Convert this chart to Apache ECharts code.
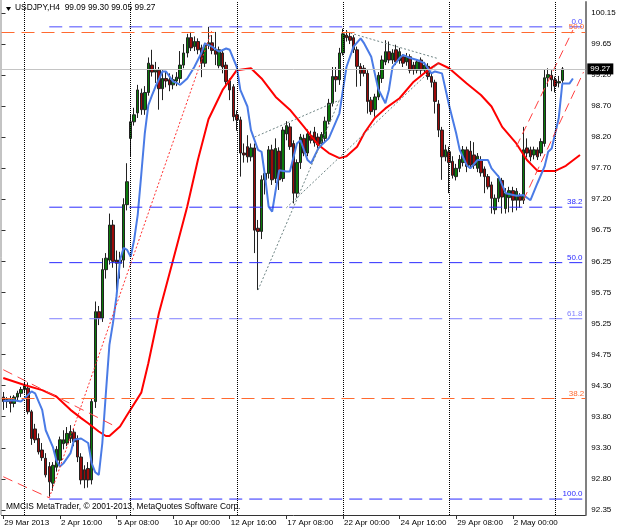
<!DOCTYPE html>
<html><head><meta charset="utf-8">
<script src="https://cdn.jsdelivr.net/npm/echarts@6/dist/echarts.min.js"></script>
<style>html,body{margin:0;padding:0;background:#fff;}#c{width:620px;height:531px;}</style>
</head><body><div id="c"></div>
<script>
// ---- data (USDJPY H4, bar index 0 = 29 Mar 2013 00:00) ----
const opens=[94.12,94.05,94.08,94.02,94.12,94.18,94.24,94.26,93.89,93.62,
93.47,93.29,93.16,93.03,92.77,93.02,93.13,93.39,93.40,93.47,
93.57,93.47,93.18,92.98,93.00,92.82,94.05,95.46,95.36,96.12,
96.27,96.82,96.27,96.22,96.27,97.14,98.18,98.44,98.58,98.89,
98.63,98.90,99.33,99.22,99.25,98.96,99.12,99.10,99.02,99.08,
99.12,99.33,99.52,99.76,99.62,99.70,99.60,99.36,99.64,99.68,
99.56,99.32,99.52,99.33,99.08,98.99,98.55,98.47,97.95,98.05,
97.89,98.03,96.77,96.72,97.53,97.63,98.00,97.55,97.98,97.55,
98.25,98.36,98.10,97.32,97.80,98.18,97.95,98.22,98.28,98.20,
98.10,98.18,98.45,98.73,99.15,99.10,99.52,99.80,99.78,99.76,
99.57,99.31,99.28,99.20,98.78,98.63,98.83,99.12,99.38,99.54,
99.41,99.57,99.40,99.46,99.38,99.46,99.33,99.25,99.41,99.25,
99.31,99.15,99.06,98.72,98.31,97.89,97.97,97.82,97.58,97.71,
97.80,98.00,97.98,97.92,97.71,97.84,97.70,97.58,97.45,97.06,
97.24,97.52,97.08,97.25,97.36,97.21,97.27,97.21,98.03,98.00,
97.92,98.00,97.95,98.10,99.13,99.17,99.10,99.05,99.09];
const highs=[94.20,94.12,94.14,94.15,94.22,94.28,94.36,94.35,93.92,93.70,
93.55,93.40,93.24,93.10,93.10,93.35,93.50,93.60,93.65,93.68,
93.62,93.52,93.24,93.05,93.10,94.10,95.62,95.55,96.30,96.38,
97.00,96.90,96.42,96.40,97.24,97.79,98.55,98.66,99.02,98.96,
99.00,99.45,99.57,99.38,99.30,99.25,99.22,99.20,99.18,99.22,
99.55,99.66,99.82,99.85,99.78,99.75,99.65,99.68,99.93,99.80,
99.85,99.62,99.55,99.38,99.12,99.03,98.62,98.52,98.10,98.23,
98.10,98.10,96.90,97.60,97.70,98.06,98.08,98.18,98.04,98.36,
98.45,98.42,98.15,97.85,98.25,98.24,98.32,98.30,98.36,98.26,
98.28,98.52,98.80,99.30,99.30,99.60,99.90,99.88,99.85,99.80,
99.62,99.36,99.33,99.25,98.83,98.88,99.22,99.48,99.72,99.70,
99.58,99.65,99.60,99.50,99.52,99.50,99.38,99.42,99.45,99.38,
99.36,99.20,99.10,98.78,98.36,98.08,98.05,97.90,97.78,97.92,
98.06,98.05,98.14,98.12,97.95,97.90,97.74,97.62,97.50,97.30,
97.60,97.56,97.40,97.42,97.42,97.40,97.32,98.36,98.18,98.05,
98.05,98.04,98.18,99.26,99.28,99.25,99.15,99.16,99.30];
const lows=[93.92,93.95,93.88,93.96,94.06,94.12,94.18,93.85,93.37,93.40,
93.22,93.12,92.86,92.56,92.65,92.95,93.05,93.30,93.35,93.40,
93.35,93.10,92.75,92.69,92.70,92.75,93.95,95.25,95.30,95.98,
96.20,96.15,95.80,95.98,96.15,97.05,97.90,98.38,98.50,98.55,
98.55,98.85,99.15,99.05,98.63,98.78,98.98,98.92,98.95,99.00,
99.05,99.28,99.45,99.55,99.55,99.50,99.14,99.30,99.58,99.50,
99.33,99.28,99.20,99.02,98.78,98.45,98.30,97.58,97.80,97.80,
97.82,96.38,95.80,96.60,97.30,97.55,97.45,97.48,97.37,97.50,
98.15,98.00,97.16,97.25,97.70,97.90,97.90,98.10,98.05,98.02,
98.05,98.12,98.40,98.68,98.91,99.02,99.48,99.70,99.66,99.52,
98.99,99.00,99.15,98.57,98.55,98.52,98.78,99.05,99.33,99.36,
99.35,99.33,99.35,99.30,99.32,99.20,99.18,99.20,99.18,99.20,
99.10,98.98,98.57,98.20,97.53,97.82,97.32,97.55,97.52,97.65,
97.74,97.65,97.70,97.70,97.65,97.58,97.32,97.38,97.00,96.99,
97.18,97.00,97.00,97.02,97.02,97.05,97.09,97.15,97.88,97.82,
97.85,97.84,97.90,98.05,98.99,98.92,98.90,98.98,99.05];
const closes=[94.05,94.08,94.02,94.12,94.18,94.24,94.30,93.89,93.47,93.45,
93.26,93.17,92.90,92.79,93.05,93.30,93.45,93.45,93.55,93.58,
93.42,93.18,92.82,92.82,92.82,94.05,95.46,95.36,96.12,96.30,
96.82,96.25,96.22,96.27,97.14,97.50,98.44,98.55,98.94,98.63,
98.90,99.36,99.22,99.25,98.96,99.12,99.08,99.02,99.10,99.14,
99.33,99.52,99.76,99.60,99.70,99.57,99.36,99.64,99.68,99.56,
99.50,99.57,99.30,99.07,98.94,98.52,98.47,97.95,97.92,97.89,
98.03,96.74,96.72,97.53,97.63,98.00,97.53,98.02,97.53,98.31,
98.38,98.05,97.32,97.80,98.20,97.95,98.25,98.15,98.11,98.08,
98.24,98.45,98.73,99.15,99.10,99.52,99.82,99.76,99.72,99.57,
99.31,99.20,99.20,98.76,98.60,98.83,99.17,99.41,99.54,99.41,
99.52,99.38,99.54,99.36,99.46,99.25,99.25,99.38,99.25,99.33,
99.15,99.06,98.76,98.31,97.89,98.00,97.80,97.60,97.71,97.85,
98.00,97.74,97.76,97.76,97.90,97.64,97.58,97.42,97.24,97.24,
97.55,97.26,97.32,97.36,97.21,97.35,97.21,98.00,97.95,97.89,
98.00,97.89,98.13,99.13,99.18,99.10,99.00,99.07,99.27];

// shifted moving averages: [bar index, price]
const blueMA=[[0,94.06],[3,94.07],[5,94.05],[6,94.10],[8,94.21],[9,94.18],[11,93.92],[12,93.60],[14,93.34],[15,93.13],[16,93.03],[17,93.08],[19,93.24],[20,93.45],[22,93.47],[24,93.40],[25,93.08],[26,92.94],[27,92.90],[28,93.40],[29,94.18],[30,94.94],[31,95.28],[32,95.70],[33,96.27],[34,96.46],[35,96.43],[36,96.32],[37,96.59],[38,96.98],[39,97.61],[40,98.26],[41,98.70],[42,98.85],[43,98.99],[45,99.23],[46,99.23],[48,99.07],[49,99.05],[50,99.02],[52,99.12],[54,99.30],[56,99.52],[57,99.67],[59,99.62],[61,99.54],[63,99.59],[64,99.57],[66,99.30],[67,98.94],[69,98.68],[70,98.31],[72,98.00],[73,97.97],[74,97.58],[75,97.11],[76,97.03],[77,97.37],[78,97.68],[80,97.66],[81,97.66],[83,98.10],[84,98.15],[86,97.84],[87,97.79],[89,98.02],[90,98.08],[92,98.18],[93,98.31],[95,98.57],[96,98.94],[97,99.30],[99,99.62],[101,99.75],[102,99.67],[104,99.46],[105,99.20],[106,98.95],[108,98.73],[109,98.94],[110,99.30],[112,99.44],[113,99.49],[115,99.44],[117,99.41],[119,99.36],[121,99.20],[122,99.23],[124,99.20],[126,98.70],[128,98.26],[129,98.00],[131,97.76],[132,97.71],[134,97.84],[137,97.84],[138,97.71],[140,97.58],[142,97.32],[145,97.28],[147,97.29],[149,97.21],[151,97.48],[153,97.74],[154,97.97],[155,98.02],[157,98.50],[158,99.04],[160,99.04],[161,99.12]];
const redMA=[[0,94.42],[6,94.31],[11,94.23],[15,94.13],[19,93.92],[22,93.79],[24,93.71],[27,93.58],[29,93.51],[30,93.51],[33,93.66],[35,93.84],[39,94.19],[41,94.65],[44,95.44],[48,96.27],[52,97.11],[55,97.84],[58,98.48],[62,98.94],[66,99.25],[70,99.28],[73,99.12],[77,98.83],[81,98.63],[85,98.36],[89,98.08],[92,97.95],[95,97.87],[97,97.90],[100,98.05],[102,98.26],[105,98.50],[108,98.65],[112,98.81],[116,99.07],[120,99.25],[123,99.36],[126,99.28],[131,99.04],[135,98.86],[138,98.68],[141,98.36],[145,98.10],[148,97.84],[151,97.67],[156,97.67],[159,97.75],[163,97.92]];

const timeLabels=['29 Mar 2013','2 Apr 16:00','5 Apr 08:00','10 Apr 00:00','12 Apr 16:00','17 Apr 08:00','22 Apr 00:00','24 Apr 16:00','29 Apr 08:00','2 May 00:00'];
const priceLabels=['100.15','99.65','99.20','98.70','98.20','97.70','97.20','96.75','96.25','95.75','95.25','94.75','94.30','93.80','93.30','92.80','92.35'];
const weekStarts=[6,36,66,96,126,156];
const fibPrices=[99.93,97.10,96.23,95.35,92.52];
const fibTexts=['0.0','38.2','50.0','61.8','100.0'];
const fibStartBar=13;
const orangePrices=[99.85,94.10];
const orangeTexts=['50.0','38.2'];
const leftChannel=[[[0,94.55],[31,93.68]],[[0,92.87],[13,92.54]]];
const riseLine=[[13,92.54],[59,99.88]];
const rightChannel=[[[145,98.05],[161,99.88]],[[147,97.21],[164,99.22]]];
const wedgeLines=[[[71,98.20],[95,98.78]],[[72,95.80],[95,98.78]],[[80,97.09],[123,99.36]],[[97,99.85],[123,99.43]]];
const symbolName='USDJPY,H4';

// ---- chart ----
const NSLOT=165;
const cats=Array.from({length:NSLOT},(_,i)=>String(i));
const candles=opens.map((o,i)=>[o,closes[i],lows[i],highs[i]]);
const last=opens.length-1;
const curPrice=closes[last];
const FONT="'Liberation Sans', Arial, sans-serif";
const isTimeTick=(i)=>i%16===0 && i/16<timeLabels.length;

function segSeries(points,color,dash,z){
  return {type:'line',xAxisIndex:0,yAxisIndex:0,data:points,showSymbol:false,symbol:'none',silent:true,z:z||4,
    lineStyle:{color:color,type:dash,width:1},emphasis:{disabled:true}};
}

const series=[
  {type:'candlestick',xAxisIndex:0,yAxisIndex:0,data:candles,barWidth:3,z:2,
   itemStyle:{color:'#0b7a0b',color0:'#9b0a0a',borderColor:'#222',borderColor0:'#222',borderWidth:1}}
];
// current price line + weekly separators + orange levels (markLine on single values)
const ml=[{yAxis:curPrice,lineStyle:{color:'#c4c4c4',type:'solid',width:1},
  label:{show:true,position:'end',formatter:curPrice.toFixed(2),backgroundColor:'#000',color:'#fff',fontSize:8,fontFamily:FONT,padding:[2,3,1,3],distance:2}}];
weekStarts.forEach(w=>ml.push({xAxis:w,lineStyle:{color:'#000',type:[1,1],width:1}}));
orangePrices.forEach((p,k)=>ml.push({yAxis:p,lineStyle:{color:'#ff6a30',type:[13,7],width:1},
  label:{show:true,position:'insideEndTop',formatter:orangeTexts[k],color:'#ff6a30',fontSize:8,fontFamily:FONT,distance:1}}));
series.push({type:'line',xAxisIndex:0,yAxisIndex:0,data:[],z:1,
  markLine:{silent:true,animation:false,symbol:['none','none'],label:{show:false},emphasis:{disabled:true},data:ml}});
// MAs
series.push({type:'line',xAxisIndex:0,yAxisIndex:0,data:redMA,showSymbol:false,symbol:'none',z:3,lineStyle:{color:'#ff0000',width:2}});
series.push({type:'line',xAxisIndex:0,yAxisIndex:0,data:blueMA,showSymbol:false,symbol:'none',z:3,lineStyle:{color:'#4a7be6',width:2}});
// fibonacci levels (blue)
const fibColors=['#4a4aff','#2a2aff','#2a2aff','#8080ff','#2a2aff'];
fibPrices.forEach((p,k)=>{
  const s=segSeries([[fibStartBar,p],[NSLOT-1,p]],fibColors[k],[13,7],4);
  s.markLine={silent:true,animation:false,symbol:['none','none'],emphasis:{disabled:true},
    lineStyle:{color:'rgba(0,0,0,0)',width:1,type:'solid'},
    label:{show:true,position:'insideEndTop',formatter:fibTexts[k],color:fibColors[k],fontSize:8,fontFamily:FONT,distance:1},
    data:[[{coord:[fibStartBar,p]},{coord:[NSLOT-1,p]}]]};
  series.push(s);
});
leftChannel.forEach(l=>series.push(segSeries(l,'#ff4040',[10,6])));
series.push(segSeries(riseLine,'#ff3030',[2,2]));
rightChannel.forEach(l=>series.push(segSeries(l,'#ff4040',[9,5])));
wedgeLines.forEach(l=>series.push(segSeries(l,'#6f8585',[2,2])));

const chart=echarts.init(document.getElementById('c'),null,{renderer:'canvas'});
chart.setOption({
  animation:false,
  backgroundColor:'#fff',
  grid:[{left:1.5,right:34.7,top:2,bottom:16},{left:1.5,right:34.7,top:12.8,bottom:21.1}],
  xAxis:[
    {type:'category',gridIndex:0,data:cats,boundaryGap:true,
     axisLine:{show:true,lineStyle:{color:'#333',width:1}},
     axisTick:{show:true,interval:(i)=>isTimeTick(i),alignWithLabel:true,length:4,lineStyle:{color:'#333'}},
     axisLabel:{interval:(i)=>isTimeTick(i),formatter:(v,i)=>timeLabels[i/16],align:'left',margin:4,fontSize:8,fontFamily:FONT,color:'#000',padding:[0,0,0,1]},
     splitLine:{show:false}},
    {type:'value',gridIndex:1,show:false,min:0,max:1}
  ],
  yAxis:[
    {type:'value',gridIndex:0,position:'right',min:92.27,max:100.32,scale:true,
     axisLine:{show:true,lineStyle:{color:'#808080',width:2}},axisTick:{show:false},axisLabel:{show:false},splitLine:{show:false}},
    {type:'value',gridIndex:1,position:'right',min:0,max:16,interval:1,
     axisLine:{show:false},axisTick:{show:true,length:4,lineStyle:{color:'#333'}},
     axisLabel:{formatter:(v)=>priceLabels[16-v],fontSize:8,fontFamily:FONT,color:'#000',margin:6},splitLine:{show:false}}
  ],
  series:series,
  graphic:[
    {type:'line',shape:{x1:1,y1:0,x2:1,y2:515},style:{stroke:'#888',lineWidth:1}},
    {type:'polygon',shape:{points:[[6,7],[11,7],[8.5,11]]},style:{fill:'#000'}},
    {type:'text',left:15,top:4,style:{text:symbolName+'  '+[opens[last],highs[last],lows[last],closes[last]].map(v=>v.toFixed(2)).join(' '),font:"8.4px 'Liberation Sans', Arial, sans-serif",fill:'#000'}},
    {type:'text',left:6,top:503,style:{text:'MMCIS MetaTrader, © 2001-2013, MetaQuotes Software Corp.',font:"8.4px 'Liberation Sans', Arial, sans-serif",fill:'#000'}}
  ]
});
</script>
</body></html>
